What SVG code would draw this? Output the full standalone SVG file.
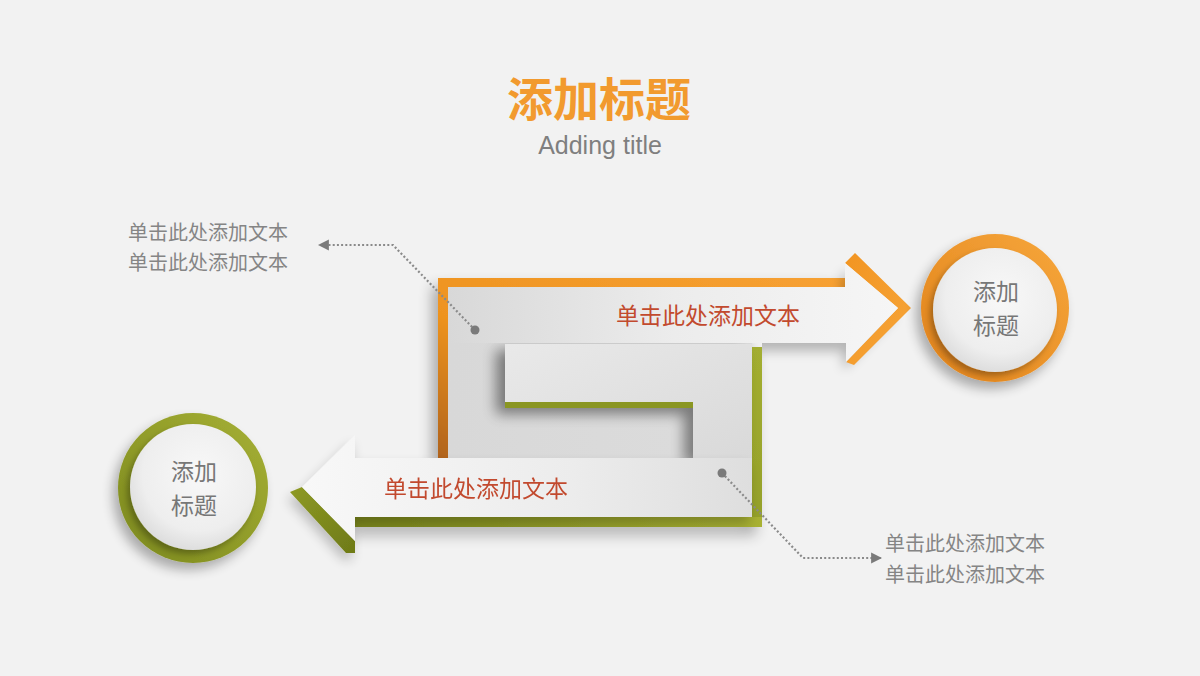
<svg xmlns="http://www.w3.org/2000/svg" width="1200" height="676" viewBox="0 0 1200 676">
<defs>
<style>
.cjk{font-family:"Noto Sans CJK SC","Noto Sans",sans-serif;}
.side{font-size:20px;fill:#858585;}
.arrtxt{font-size:23px;fill:#C24A2E;}
.circtxt{font-size:23px;fill:#777777;text-anchor:middle;}
.dot{fill:#7a7a7a;}
.conn{fill:none;stroke:#8a8a8a;stroke-width:2.2;stroke-dasharray:2 2.2;}
</style>
<filter id="ds" x="-20%" y="-25%" width="140%" height="160%">
<feGaussianBlur in="SourceAlpha" stdDeviation="7"/>
<feOffset dx="-6" dy="8"/>
<feComponentTransfer><feFuncA type="linear" slope="0.3"/></feComponentTransfer>
<feMerge><feMergeNode/><feMergeNode in="SourceGraphic"/></feMerge>
</filter>
<filter id="inner" x="-20%" y="-30%" width="140%" height="160%">
<feGaussianBlur in="SourceAlpha" stdDeviation="7"/>
<feOffset dx="-9" dy="6"/>
<feComponentTransfer><feFuncA type="linear" slope="0.45"/></feComponentTransfer>
<feMerge><feMergeNode/><feMergeNode in="SourceGraphic"/></feMerge>
</filter>
<filter id="blur6" x="-30%" y="-50%" width="160%" height="200%">
<feGaussianBlur stdDeviation="6"/>
</filter>
<filter id="arrsh" x="-20%" y="-30%" width="140%" height="170%">
<feGaussianBlur in="SourceAlpha" stdDeviation="6"/>
<feOffset dx="-3" dy="7"/>
<feComponentTransfer><feFuncA type="linear" slope="0.22"/></feComponentTransfer>
<feMerge><feMergeNode/><feMergeNode in="SourceGraphic"/></feMerge>
</filter>
<filter id="csh" x="-30%" y="-30%" width="160%" height="160%">
<feGaussianBlur in="SourceAlpha" stdDeviation="6"/>
<feOffset dx="-5" dy="7"/>
<feComponentTransfer><feFuncA type="linear" slope="0.3"/></feComponentTransfer>
<feMerge><feMergeNode/><feMergeNode in="SourceGraphic"/></feMerge>
</filter>
<filter id="ish" x="-20%" y="-20%" width="140%" height="140%">
<feGaussianBlur in="SourceAlpha" stdDeviation="3"/>
<feOffset dx="-3" dy="4"/>
<feComponentTransfer><feFuncA type="linear" slope="0.3"/></feComponentTransfer>
<feMerge><feMergeNode/><feMergeNode in="SourceGraphic"/></feMerge>
</filter>
<clipPath id="rightOf"><rect x="762" y="200" width="300" height="250"/></clipPath>
<linearGradient id="orL" x1="1" y1="0" x2="0" y2="1">
<stop offset="0" stop-color="#F7A133"/>
<stop offset="0.6" stop-color="#EE931F"/>
<stop offset="1" stop-color="#B0631A"/>
</linearGradient>
<linearGradient id="orH" x1="0" y1="0" x2="1" y2="1">
<stop offset="0" stop-color="#F29522"/>
<stop offset="1" stop-color="#F6A53A"/>
</linearGradient>
<linearGradient id="grH" x1="0" y1="0" x2="1" y2="0">
<stop offset="0" stop-color="#7A861C"/>
<stop offset="1" stop-color="#A8B133"/>
</linearGradient>
<linearGradient id="grV" x1="0" y1="0" x2="0" y2="1">
<stop offset="0" stop-color="#A3AE30"/>
<stop offset="1" stop-color="#94A02A"/>
</linearGradient>
<linearGradient id="grHead" x1="0" y1="0" x2="1" y2="1">
<stop offset="0" stop-color="#8E9A24"/>
<stop offset="1" stop-color="#6E7A18"/>
</linearGradient>
<linearGradient id="base" x1="0" y1="0" x2="1" y2="0">
<stop offset="0" stop-color="#d8d8d8"/>
<stop offset="1" stop-color="#dcdcdc"/>
</linearGradient>
<linearGradient id="mid" x1="0" y1="0" x2="1" y2="1">
<stop offset="0" stop-color="#e9e9e9"/>
<stop offset="1" stop-color="#d9d9d9"/>
</linearGradient>
<linearGradient id="topArr" x1="448" y1="0" x2="900" y2="0" gradientUnits="userSpaceOnUse">
<stop offset="0" stop-color="#d8d8d8"/>
<stop offset="0.5" stop-color="#ececec"/>
<stop offset="1" stop-color="#f6f6f6"/>
</linearGradient>
<linearGradient id="botArr" x1="0" y1="0" x2="1" y2="0">
<stop offset="0" stop-color="#f8f8f8"/>
<stop offset="0.6" stop-color="#ececec"/>
<stop offset="1" stop-color="#dedede"/>
</linearGradient>
<linearGradient id="ringO" x1="1" y1="0" x2="0" y2="1">
<stop offset="0" stop-color="#F7A73C"/>
<stop offset="1" stop-color="#E0821A"/>
</linearGradient>
<linearGradient id="ringG" x1="1" y1="0" x2="0" y2="1">
<stop offset="0" stop-color="#A6B034"/>
<stop offset="1" stop-color="#7C891E"/>
</linearGradient>
<radialGradient id="face" cx="0.55" cy="0.4" r="0.6">
<stop offset="0" stop-color="#f8f8f8"/>
<stop offset="0.75" stop-color="#eeeeee"/>
<stop offset="1" stop-color="#dedede"/>
</radialGradient>
<marker id="ah" viewBox="0 0 10 10" refX="9" refY="5" markerWidth="5" markerHeight="6" markerUnits="strokeWidth" orient="auto">
<path d="M0,0 L10,5 L0,10 Z" fill="#7a7a7a"/>
</marker>
</defs>

<rect width="1200" height="676" fill="#F2F2F2"/>

<g id="title">
<text class="cjk" x="599" y="116" font-size="46" font-weight="bold" fill="#F29A2E" text-anchor="middle">添加标题</text>
<text x="600" y="154" font-family="'Liberation Sans',Arial,sans-serif" font-size="25" fill="#7f7f7f" text-anchor="middle">Adding title</text>
</g>

<g id="s-shape">
<g filter="url(#ds)">
<path d="M438,278 H845 V287 H448 V458 H438 Z" fill="url(#orL)"/>
<rect x="752" y="347" width="10" height="180" fill="url(#grV)"/>
<rect x="355" y="517" width="407" height="10" fill="url(#grH)"/>
<rect x="448" y="287" width="304" height="171" fill="url(#base)"/>
</g>
<g filter="url(#inner)">
<path d="M505,344 H752 V458 H693 V402 H505 Z" fill="url(#mid)"/>
<rect x="505" y="402" width="188" height="6" fill="#8A9624"/>
</g>
<g id="top-arrow">
<g clip-path="url(#rightOf)">
<path d="M740,300 H845 V263 L898,308 L846,362 V343 H740 Z" fill="#000" opacity="0.25" transform="translate(-3,8)" filter="url(#blur6)"/>
</g>
<path d="M855,253 L911,308 L854,365 L846,362 L898,308 L845,263 Z" fill="url(#orH)"/>
<path d="M448,287 H845 V263 L898,308 L846,362 V343 H448 Z" fill="url(#topArr)"/>
<text class="cjk arrtxt" x="616" y="324">单击此处添加文本</text>
</g>
<g id="bottom-arrow" filter="url(#arrsh)">
<path d="M302,487 L355,541 V553 H346 L290,492 Z" fill="url(#grHead)"/>
<path d="M752,458 H355 V435 L302,487 L355,541 V517 H752 Z" fill="url(#botArr)"/>
<text class="cjk arrtxt" x="384" y="497">单击此处添加文本</text>
</g>
</g>

<g id="circle-orange">
<circle cx="995" cy="308" r="74" fill="url(#ringO)" filter="url(#csh)"/>
<circle cx="995" cy="310" r="62" fill="url(#face)" filter="url(#ish)"/>
<text class="cjk circtxt" x="996" y="300">添加</text>
<text class="cjk circtxt" x="996" y="334">标题</text>
</g>

<g id="circle-green">
<circle cx="193" cy="488" r="75" fill="url(#ringG)" filter="url(#csh)"/>
<circle cx="193" cy="487" r="63" fill="url(#face)" filter="url(#ish)"/>
<text class="cjk circtxt" x="194" y="480">添加</text>
<text class="cjk circtxt" x="194" y="514">标题</text>
</g>

<g id="text-top-left">
<text class="cjk side" x="128" y="240">单击此处添加文本</text>
<text class="cjk side" x="128" y="270">单击此处添加文本</text>
</g>

<g id="text-bottom-right">
<text class="cjk side" x="885" y="551">单击此处添加文本</text>
<text class="cjk side" x="885" y="582">单击此处添加文本</text>
</g>

<g id="connectors">
<path class="conn" d="M475,330 L393,245 L319,245" marker-end="url(#ah)"/>
<circle class="dot" cx="475" cy="330" r="4.5"/>
<path class="conn" d="M722,473 L803,558 L881,558" marker-end="url(#ah)"/>
<circle class="dot" cx="722" cy="473" r="4.5"/>
</g>
</svg>
